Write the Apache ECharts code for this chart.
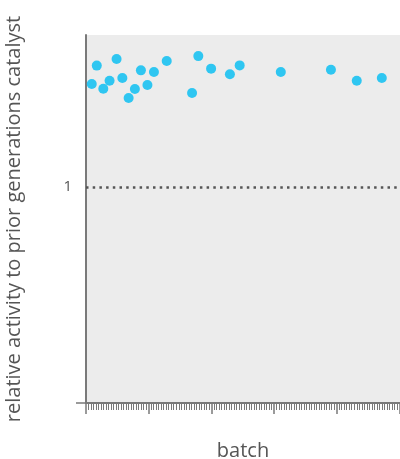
<!DOCTYPE html>
<html>
<head>
<meta charset="utf-8">
<script src="https://cdn.jsdelivr.net/npm/echarts@6/dist/echarts.min.js"></script>
<style>
  html, body { margin: 0; padding: 0; background: #fff; }
  #chart { width: 400px; height: 459px; }
</style>
</head>
<body>
<div id="chart"></div>
<script>
// Batch index of each measured catalyst batch
const batches = [2.3, 4.3, 6.9, 9.4, 12.2, 14.5, 17.0, 19.5, 21.9, 24.5, 27.1, 32.2,
                 42.3, 44.8, 49.9, 57.4, 61.3, 77.7, 97.7, 108.0, 118.0];
// Activity relative to the prior generation's catalyst
const activity = [1.477, 1.562, 1.455, 1.492, 1.593, 1.505, 1.412, 1.454, 1.540, 1.472, 1.532, 1.583,
                  1.435, 1.606, 1.548, 1.522, 1.563, 1.532, 1.543, 1.492, 1.505];
// Reference level (equal activity)
const baseline = 1;

const points = batches.map((b, i) => [b, activity[i]]);
const font = '"Open Sans", "DejaVu Sans", sans-serif';
const grey = '#7a7a7a';

const chart = echarts.init(document.getElementById('chart'), null, { renderer: 'canvas' });
chart.setOption({
  animation: false,
  grid: {
    left: 86, top: 35, right: 0, bottom: 56,
    containLabel: false, outerBoundsMode: 'none',
    show: true, backgroundColor: '#ececec', borderWidth: 0
  },
  xAxis: {
    type: 'value',
    min: 0,
    max: 125.25,
    interval: 25,
    name: 'batch',
    nameLocation: 'middle',
    nameGap: 38,
    nameTextStyle: { fontFamily: font, fontSize: 20, color: '#555' },
    axisLine: { show: true, lineStyle: { color: grey, width: 2 } },
    axisTick: { show: true, length: 11, lineStyle: { color: grey, width: 1.5 } },
    minorTick: { show: true, splitNumber: 25, length: 7, lineStyle: { color: grey, width: 1 } },
    axisLabel: { show: false },
    splitLine: { show: false }
  },
  yAxis: {
    type: 'value',
    min: 0,
    max: 1.7037,
    interval: 1,
    name: 'relative activity to prior generations catalyst',
    nameLocation: 'middle',
    nameGap: 62,
    nameTextStyle: { fontFamily: font, fontSize: 20, color: '#555' },
    axisLine: { show: true, lineStyle: { color: grey, width: 2 } },
    axisTick: { show: true, length: 10, customValues: [0], lineStyle: { color: grey, width: 1.5 } },
    axisLabel: { show: true, customValues: [1], fontFamily: font, fontSize: 15, color: '#555', margin: 14 },
    splitLine: { show: false }
  },
  series: [{
    type: 'scatter',
    data: points,
    symbolSize: 10,
    itemStyle: { color: '#00bdf2' },
    markLine: {
      silent: true,
      symbol: 'none',
      label: { show: false },
      lineStyle: { color: '#555', width: 2.5, type: [2.5, 4.2] },
      data: [{ yAxis: baseline }]
    }
  }]
});
</script>
</body>
</html>
